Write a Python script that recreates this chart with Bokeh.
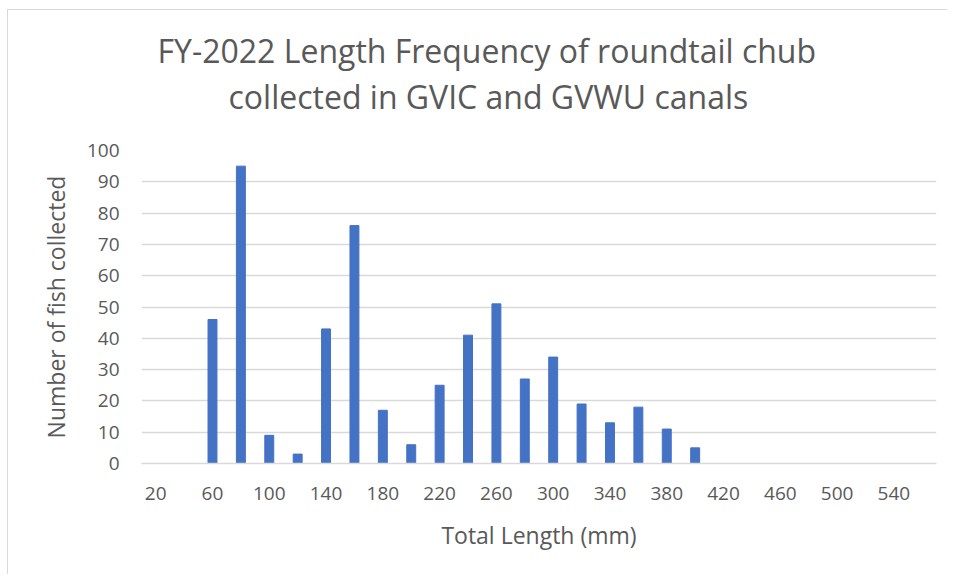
from bokeh.plotting import figure
from bokeh.models import Range1d, FixedTicker, Title
from bokeh.embed import file_html
from bokeh.resources import INLINE

# Data
lengths = [20, 40, 60, 80, 100, 120, 140, 160, 180, 200, 220, 240, 260, 280,
           300, 320, 340, 360, 380, 400, 420, 440, 460, 480, 500, 520, 540, 560]
counts = [0, 0, 46, 95, 9, 3, 43, 76, 17, 6, 25, 41, 51, 27,
          34, 19, 13, 18, 11, 5, 0, 0, 0, 0, 0, 0, 0, 0]
x_tick_labels = [20, 60, 100, 140, 180, 220, 260, 300, 340, 380, 420, 460, 500, 540]
y_ticks = [0, 10, 20, 30, 40, 50, 60, 70, 80, 90, 100]
title_line1 = "FY-2022 Length Frequency of roundtail chub"
title_line2 = "collected in GVIC and GVWU canals"

FONT = "Open Sans"
TXT = "#595959"
GRID = "#D9D9D9"

p = figure(width=940, height=565, output_backend="svg", toolbar_location=None,
           x_range=Range1d(10, 570), y_range=Range1d(0, 100),
           title=title_line1,
           min_border_left=133, min_border_right=12, min_border_top=140,
           min_border_bottom=112)
p.styles = {"margin-left": "7px", "margin-top": "9px",
            "border-left": "1px solid #D9D9D9", "border-top": "1px solid #D9D9D9"}

p.vbar(x=lengths, top=counts, width=6.3, color="#4472C4", line_color="#4472C4")

# outer title line
p.title.align = "left"
p.title.offset = 16
p.title.text_font = FONT
p.title.text_font_size = "32px"
p.title.text_font_style = "normal"
p.title.text_color = TXT
p.title.standoff = 2

# spacer between the title and the plot area
spacer = Title(text=" ", align="center", text_font=FONT, text_font_size="1px",
               text_color="white", standoff=30)
p.add_layout(spacer, "above")

# second title line
t2 = Title(text=title_line2, align="left", offset=87, text_font=FONT,
           text_font_size="32px", text_font_style="normal", text_color=TXT,
           standoff=0)
p.add_layout(t2, "above")

p.outline_line_color = None
p.background_fill_color = "white"
p.border_fill_color = "white"

p.xgrid.grid_line_color = None
p.ygrid.grid_line_color = GRID
p.ygrid.grid_line_width = 1.3

p.xaxis.ticker = FixedTicker(ticks=x_tick_labels)
p.yaxis.ticker = FixedTicker(ticks=y_ticks)

for ax in (p.xaxis[0], p.yaxis[0]):
    ax.major_tick_line_color = None
    ax.minor_tick_line_color = None
    ax.major_tick_out = 0
    ax.major_tick_in = 0
    ax.major_label_text_font = FONT
    ax.major_label_text_font_size = "19px"
    ax.major_label_text_color = TXT
    ax.axis_label_text_font = FONT
    ax.axis_label_text_font_size = "23px"
    ax.axis_label_text_font_style = "normal"
    ax.axis_label_text_color = TXT

p.xaxis.axis_line_color = GRID
p.xaxis.axis_line_width = 1.3
p.yaxis.axis_line_color = None
p.xaxis.axis_label = "Total Length (mm)"
p.yaxis.axis_label = "Number of fish collected"
p.xaxis.major_label_standoff = 23
p.xaxis.axis_label_standoff = 16
p.yaxis.major_label_standoff = 22
p.yaxis.axis_label_standoff = 12

open("out.html", "w").write(file_html(p, INLINE))
